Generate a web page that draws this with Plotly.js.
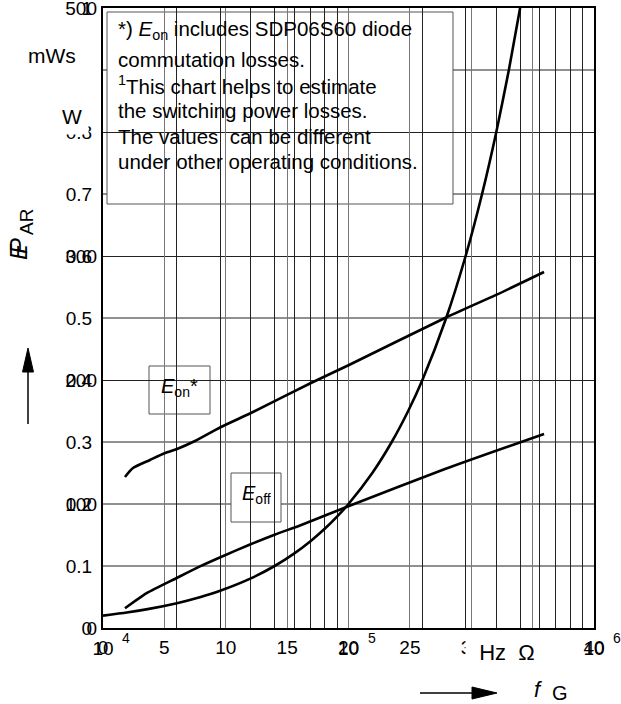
<!DOCTYPE html>
<html><head><meta charset="utf-8">
<script src="https://cdn.plot.ly/plotly-3.0.1.min.js"></script>
<style>html,body{margin:0;padding:0;background:#fff}#chart{width:621px;height:704px}</style>
</head><body><div id="chart"></div>
<script>
// P_AR (W) vs frequency f (Hz) -- log x axis
const freqHz = [1e4, 1.25e4, 1.5e4, 2e4, 2.5e4, 3e4, 4e4, 5e4, 6e4, 7e4, 8e4, 9e4, 1e5, 1.25e5, 1.5e5, 1.75e5, 2e5, 2.5e5, 3e5, 3.5e5, 4e5, 4.5e5, 5e5];
const powerW = [0.020, 0.025, 0.030, 0.040, 0.050, 0.060, 0.080, 0.100, 0.120, 0.140, 0.160, 0.180, 0.200, 0.250, 0.300, 0.350, 0.400, 0.500, 0.600, 0.700, 0.800, 0.900, 1.000];
// E_on* and E_off (mWs) vs gate resistor R_G (Ω)
const rgOn  = [1.79, 2.44, 3.83, 5.05, 6.03, 7.49, 9.61, 12.05, 16.94, 20.04, 27.86, 32.02, 35.93];
const eOn   = [121.8, 129.0, 135.5, 141.1, 144.4, 150.8, 162.1, 173.4, 197.6, 212.1, 250.0, 268.6, 287.1];
const rgOff = [1.79, 3.56, 6.0, 7.9, 9.61, 11.98, 14.03, 16.05, 20.04, 27.86, 35.93];
const eOff  = [15.9, 28.1, 40.3, 49.7, 57.3, 67.3, 75.4, 82.7, 98.4, 128.2, 156.5];
// tick / grid values
const logTicks = [1e4,2e4,3e4,4e4,5e4,6e4,7e4,8e4,9e4,1e5,2e5,3e5,4e5,5e5,6e5,7e5,8e5,9e5,1e6];
const logTickText = ['10','','','','','','','','','10','','','','','','','','','10'];
const logExponents = ['4','5','6'];
const rgTicks = [0,5,10,15,20,25,30,35,40];
const rgTickText = ['0','5','10','15','20','25','30','35','40'];
const wTicks = [0,0.1,0.2,0.3,0.4,0.5,0.6,0.7,0.8,1];
const wTickText = ['0','0.1','0.2','0.3','0.4','0.5','0.6','0.7','0.8','1'];
const eTicks = [0,100,200,300,500];
const eTickText = ['0','100','200','300','500'];
const wGridCovered = [0.1,0.2,0.3,0.5,0.7,0.9];
const eGridTop = [0.4,0.6,0.8];
const noteLines = [
  '*) <i>E</i><sub>on</sub> includes SDP06S60 diode',
  'commutation losses.',
  '<sup>1</sup>This chart helps to estimate',
  'the switching power losses.',
  'The values\u00a0 can be different',
  'under other operating conditions.'
];

const FONT = 'Liberation Sans, Arial, sans-serif';
const curveLine = {color:'#000', width:2.6, shape:'spline', smoothing:0.6};
const traces = [
  {x:freqHz, y:powerW, xaxis:'x', yaxis:'y', mode:'lines', line:curveLine, hoverinfo:'skip', cliponaxis:false},
  {x:rgOn, y:eOn, xaxis:'x2', yaxis:'y2', mode:'lines', line:curveLine, hoverinfo:'skip'},
  {x:rgOff, y:eOff, xaxis:'x2', yaxis:'y2', mode:'lines', line:curveLine, hoverinfo:'skip'},
  {x:[], y:[], xaxis:'x', yaxis:'y3', mode:'lines'}
];

const px = v => (v - 103) / 491;   // pixel -> paper helpers for decorations
const py = v => (628 - v) / 620;

const shapes = [];
wGridCovered.forEach(v => shapes.push({type:'line', layer:'below', xref:'paper', yref:'y', x0:0, x1:1, y0:v, y1:v, line:{color:'#222', width:1}}));
// boxes
shapes.push({type:'rect', layer:'below', xref:'paper', yref:'paper', x0:px(107), x1:px(453), y0:py(204), y1:py(12), fillcolor:'#fff', line:{color:'#555', width:1}});
shapes.push({type:'rect', layer:'below', xref:'paper', yref:'paper', x0:px(149), x1:px(210), y0:py(414), y1:py(366), fillcolor:'#fff', line:{color:'#555', width:1}});
shapes.push({type:'rect', layer:'below', xref:'paper', yref:'paper', x0:px(231), x1:px(281), y0:py(522), y1:py(473), fillcolor:'#fff', line:{color:'#555', width:1}});
// axis direction arrows
shapes.push({type:'line', layer:'above', xref:'paper', yref:'paper', x0:px(28), x1:px(28), y0:py(424), y1:py(368), line:{color:'#000', width:1.5}});
shapes.push({type:'path', layer:'above', xref:'paper', yref:'paper', path:`M ${px(22.5)} ${py(372)} L ${px(33.5)} ${py(372)} L ${px(28)} ${py(348)} Z`, fillcolor:'#000', line:{color:'#000', width:1}});
shapes.push({type:'line', layer:'above', xref:'paper', yref:'paper', x0:px(420), x1:px(476), y0:py(693), y1:py(693), line:{color:'#000', width:1.5}});
shapes.push({type:'path', layer:'above', xref:'paper', yref:'paper', path:`M ${px(472)} ${py(687)} L ${px(472)} ${py(699)} L ${px(497)} ${py(693)} Z`, fillcolor:'#000', line:{color:'#000', width:1}});

const annotations = [];
const noteY = [30, 60, 85, 110, 136, 161];
const ann = (text, x, y, size, extra) => Object.assign({text, xref:'paper', yref:'paper', x:px(x), y:py(y), xanchor:'center', yanchor:'middle', showarrow:false, font:{family:FONT, size, color:'#000'}}, extra || {});
noteLines.forEach((t,i) => annotations.push(ann(t, 116, noteY[i], 20.5, {xanchor:'left', align:'left'})));
logExponents.forEach((t,i) => annotations.push({text:t, xref:'x', yref:'paper', x:4+i, y:0, xshift:23, yshift:-10, xanchor:'center', yanchor:'middle', showarrow:false, font:{family:FONT, size:14, color:'#000'}}));
annotations.push(ann('mWs', 52, 56, 21, {bgcolor:'#fff'}));
annotations.push(ann('W', 72, 116, 21, {bgcolor:'#fff', borderpad:6}));
annotations.push(ann('\u00a0\u00a0Hz\u00a0\u00a0Ω\u00a0\u00a0', 507, 652, 22, {bgcolor:'#fff', borderpad:1}));
annotations.push(ann('<i>f</i>', 538, 689, 22));
annotations.push(ann('G', 560, 693, 20));
annotations.push(ann('<i>E</i>', 18, 252, 24, {textangle:-90}));
annotations.push(ann('<i>P</i>', 18, 246, 24, {textangle:-90}));
annotations.push(ann('AR', 26, 222, 19, {textangle:-90}));
annotations.push(ann('<i>E</i><sub>on</sub>*', 179, 387, 20));
annotations.push(ann('<i>E</i><sub>off</sub>', 256, 494, 20));

const tickFont = {family:FONT, size:19, color:'#000'};
const common = {zeroline:false, fixedrange:true, automargin:false, ticklabeloverflow:'allow', ticks:''};
const layout = {
  width:621, height:704,
  margin:{l:103, r:27, t:8, b:76},
  paper_bgcolor:'#fff', plot_bgcolor:'rgba(0,0,0,0)',
  showlegend:false,
  font:{family:FONT, size:19, color:'#000'},
  xaxis:Object.assign({type:'log', range:[4,6], tickmode:'array', tickvals:logTicks, ticktext:logTickText, showgrid:true, gridcolor:'#222', gridwidth:1,
         showline:true, linewidth:2, linecolor:'#000', mirror:true, ticklabelstandoff:2, tickfont:tickFont}, common),
  xaxis2:Object.assign({range:[0,40], overlaying:'x', side:'bottom', anchor:'y', tickmode:'array', tickvals:rgTicks, ticktext:rgTickText, showgrid:true, gridcolor:'#777', gridwidth:1,
          showline:false, ticklabelstandoff:6, tickfont:tickFont}, common),
  yaxis:Object.assign({range:[0,1], tickmode:'array', tickvals:wTicks, ticktext:wTickText, showgrid:false, showline:true, linewidth:2, linecolor:'#000', mirror:true,
         ticklabelstandoff:5, tickfont:tickFont}, common),
  yaxis2:Object.assign({range:[0,500], overlaying:'y', side:'left', anchor:'x', tickmode:'array', tickvals:eTicks, ticktext:eTickText, showgrid:false, showline:false,
          ticklabelstandoff:5, tickfont:tickFont}, common),
  yaxis3:Object.assign({range:[0,1], overlaying:'y', side:'left', anchor:'x', tickmode:'array', tickvals:eGridTop, showticklabels:false, showgrid:true, gridcolor:'#222', gridwidth:1,
          showline:false}, common),
  shapes:shapes,
  annotations:annotations
};
Plotly.newPlot('chart', traces, layout, {staticPlot:true, displayModeBar:false});
</script></body></html>
